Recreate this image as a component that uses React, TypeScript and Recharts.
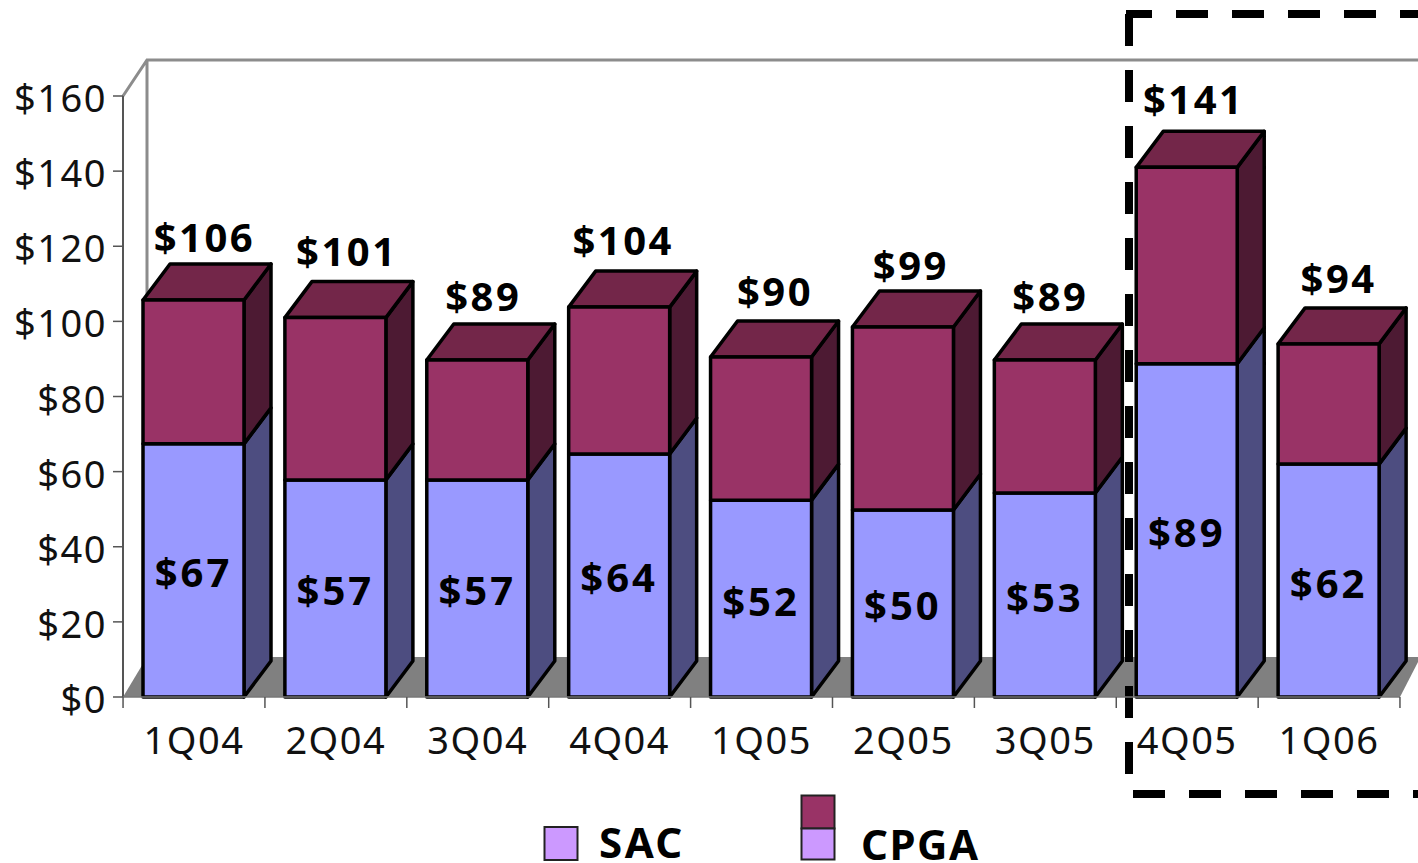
import { Bar, BarChart, LabelList, XAxis, YAxis } from "recharts";

const quarters = ["1Q04", "2Q04", "3Q04", "4Q04", "1Q05", "2Q05", "3Q05", "4Q05", "1Q06"];
const sac = [67.4, 57.8, 57.8, 64.7, 52.4, 49.8, 54.3, 88.7, 62];
const cpga = [38.3, 43.2, 31.9, 39.1, 38.1, 48.7, 35.4, 52.3, 32];
const sacLabels = [67, 57, 57, 64, 52, 50, 53, 89, 62];
const totalLabels = [106, 101, 89, 104, 90, 99, 89, 141, 94];
const yTicks = [0, 20, 40, 60, 80, 100, 120, 140, 160];

// hand nudges, the labels in the source sit a bit off-centre
const totalNudgeX = [11, 11.5, 6, 4, 14, 8, 5.5, 7, 10];
const totalNudgeY = [3, -1, 2, -1, 0, 4, 2, -2, 0];

const data = quarters.map((q, i) => ({
  q,
  sac: sac[i],
  cpga: cpga[i],
  sacLabel: sacLabels[i],
  total: totalLabels[i],
}));

const FONT = "'Noto Sans', sans-serif";
const DX = 27;
const DY = 36;

function Box({ x, y, width, height, fill, side, top }: any) {
  const r = x + width;
  const b = y + height;
  return (
    <g stroke="#000" strokeWidth={3.5} strokeLinejoin="round">
      <path d={`M${r},${y} L${r + DX},${y - DY} L${r + DX},${b - DY} L${r},${b} Z`} fill={side} />
      {top && <path d={`M${x},${y} L${x + DX},${y - DY} L${r + DX},${y - DY} L${r},${y} Z`} fill={top} />}
      <rect x={x} y={y} width={width} height={height} fill={fill} />
    </g>
  );
}

function QuarterTick({ x, y, payload, index }: any) {
  const half = 70.9;
  return (
    <g>
      <line x1={x - half} x2={x - half} y1={697} y2={708} stroke="#555" strokeWidth={1.5} />
      {index === quarters.length - 1 && (
        <line x1={x + half} x2={x + half} y1={697} y2={708} stroke="#555" strokeWidth={1.5} />
      )}
      <text x={x} y={y + 49} textAnchor="middle" fontFamily={FONT} fontSize={38} letterSpacing={1.5} fill="#111">
        {payload.value}
      </text>
    </g>
  );
}

function Walls() {
  return (
    <g>
      <path d="M123,697 L147,657 L1418,657 L1418,662 L1400,697 Z" fill="#808080" />
      <path d="M123,96 L147,60 L1418,60 M147,60 L147,657" fill="none" stroke="#8c8c8c" strokeWidth={3} />
    </g>
  );
}

function Highlight() {
  const dash = { stroke: "#000", strokeWidth: 8, strokeDasharray: "32 24", fill: "none" };
  return (
    <g>
      <line x1={1129} y1={14} x2={1129} y2={776} {...dash} />
      <line x1={1126} y1={14} x2={1418} y2={14} {...dash} strokeDashoffset={6} />
      <line x1={1133} y1={794} x2={1418} y2={794} {...dash} />
    </g>
  );
}

function LegendBlock() {
  const text = { fontFamily: FONT, fontSize: 42, fontWeight: 700, letterSpacing: 1.5, fill: "#000" };
  return (
    <g>
      <rect x={544.5} y={827} width={33} height={33} fill="#CC99FF" stroke="#222" strokeWidth={2} />
      <text x={599} y={858} {...text} letterSpacing={2.5}>SAC</text>
      <rect x={801.5} y={795.5} width={33} height={33} fill="#993366" stroke="#222" strokeWidth={2} />
      <rect x={801.5} y={828.5} width={33} height={31} fill="#CC99FF" stroke="#222" strokeWidth={2} />
      <text x={861} y={860} {...text}>CPGA</text>
    </g>
  );
}

const YTick = ({ x, y, payload }: any) => (
  <text x={x + 2} y={y + 16} textAnchor="end" fontFamily={FONT} fontSize={38} letterSpacing={1.5} fill="#111">
    {`$${payload.value}`}
  </text>
);

export default function App() {
  return (
    <div style={{ position: "absolute", left: 0, top: 0, width: 1418, height: 863, background: "#fff", overflow: "hidden" }}>
      <BarChart
        width={1418}
        height={863}
        data={data}
        barSize={101}
        margin={{ top: 96, right: 18, left: 0, bottom: 0 }}
      >
        <Walls />
        <YAxis
          width={123}
          domain={[0, 160]}
          ticks={yTicks}
          interval={0}
          tickSize={10}
          tickMargin={8}
          axisLine={{ stroke: "#555", strokeWidth: 2 }}
          tickLine={{ stroke: "#555", strokeWidth: 1.5 }}
          tick={<YTick />}
        />
        <XAxis
          dataKey="q"
          height={166}
          interval={0}
          tickLine={false}
          axisLine={{ stroke: "#777", strokeWidth: 1.5 }}
          tick={<QuarterTick />}
        />
        <Bar
          dataKey="sac"
          stackId="a"
          fill="#9999FF"
          isAnimationActive={false}
          shape={(p: any) => <Box {...p} fill="#9999FF" side="#4D4D80" />}
        >
          <LabelList
            dataKey="sacLabel"
            content={(p: any) => (
              <text
                x={p.x + p.width / 2}
                y={p.y + p.height / 2 + 17}
                textAnchor="middle"
                fontFamily={FONT}
                fontSize={40}
                fontWeight={700}
                letterSpacing={3}
                fill="#000"
              >
                {`$${p.value}`}
              </text>
            )}
          />
        </Bar>
        <Bar
          dataKey="cpga"
          stackId="a"
          fill="#993366"
          isAnimationActive={false}
          shape={(p: any) => <Box {...p} fill="#993366" side="#4D1A33" top="#732649" />}
        >
          <LabelList
            dataKey="total"
            content={(p: any) => (
              <text
                x={p.x + p.width / 2 + totalNudgeX[p.index]}
                y={p.y - 51 + totalNudgeY[p.index]}
                textAnchor="middle"
                fontFamily={FONT}
                fontSize={40}
                fontWeight={700}
                letterSpacing={2.5}
                fill="#000"
              >
                {`$${p.value}`}
              </text>
            )}
          />
        </Bar>
        <Highlight />
        <LegendBlock />
      </BarChart>
    </div>
  );
}
